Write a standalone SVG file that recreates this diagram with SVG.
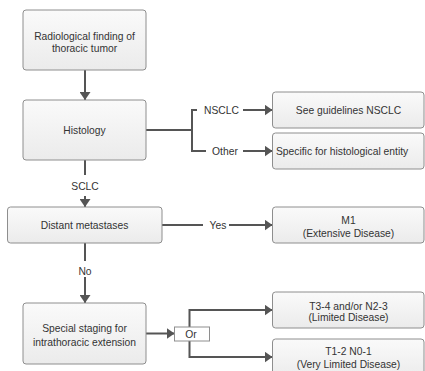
<svg xmlns="http://www.w3.org/2000/svg" width="425" height="371" viewBox="0 0 425 371">
<defs>
<linearGradient id="g" x1="0" y1="0" x2="0" y2="1">
<stop offset="0" stop-color="#fafafa"/>
<stop offset="1" stop-color="#ebebeb"/>
</linearGradient>
<marker id="ah" viewBox="0 0 8 11" markerWidth="8" markerHeight="11" refX="8" refY="5.5" orient="auto" markerUnits="userSpaceOnUse">
<path d="M0,0 L8,5.5 L0,11 z" fill="#555"/>
</marker>
<style>
.box{fill:url(#g);stroke:#8e8e8e;stroke-width:1}
.t{font-family:"Liberation Sans",Arial,sans-serif;font-size:10.3px;fill:#333;text-anchor:middle}
.c{fill:none;stroke:#555;stroke-width:2}
.a{marker-end:url(#ah)}
</style>
</defs>
<g id="connectors">
<line class="c a" x1="85" y1="70" x2="85" y2="100"/>
<polyline class="c" points="146,130 192,130"/>
<polyline class="c" points="197,110 192,110 192,151 206,151"/>
<line class="c a" x1="243" y1="110" x2="272.5" y2="110"/>
<line class="c a" x1="243" y1="151" x2="272.5" y2="151"/>
<text class="t" x="221.5" y="113.7">NSCLC</text>
<text class="t" x="225" y="154.7">Other</text>
<line class="c" x1="85" y1="160" x2="85" y2="175"/>
<text class="t" x="85" y="189.7">SCLC</text>
<line class="c a" x1="85" y1="196" x2="85" y2="207"/>
<line class="c" x1="162" y1="225" x2="203" y2="225"/>
<text class="t" x="218" y="228.7">Yes</text>
<line class="c a" x1="229" y1="225" x2="272.5" y2="225"/>
<line class="c" x1="85" y1="243" x2="85" y2="261"/>
<text class="t" x="85" y="274.7">No</text>
<line class="c a" x1="85" y1="277" x2="85" y2="303"/>
<line class="c a" x1="146" y1="333.5" x2="174.5" y2="333.5"/>
<polyline class="c a" points="189.5,327 189.5,310 272.5,310"/>
<polyline class="c a" points="189.5,341 189.5,357 272.5,357"/>
</g>
<g id="or">
<rect x="174.5" y="327" width="35" height="14" fill="#fff" stroke="#8e8e8e" stroke-width="1"/>
<text class="t" x="191" y="337.7">Or</text>
</g>
<g id="n1">
<rect class="box" x="23" y="10" width="123" height="60" rx="3"/>
<text class="t" x="84.5" y="39.7">Radiological finding of</text>
<text class="t" x="84.5" y="52">thoracic tumor</text>
</g>
<g id="n2">
<rect class="box" x="23" y="100" width="123" height="60" rx="3"/>
<text class="t" x="84.5" y="133.7">Histology</text>
</g>
<g id="n3">
<rect class="box" x="272.5" y="92" width="151.5" height="36" rx="3"/>
<text class="t" x="348.5" y="113.7">See guidelines NSCLC</text>
</g>
<g id="n4">
<rect class="box" x="272.5" y="133" width="151.5" height="36" rx="3"/>
<text class="t" x="276" y="154.7" style="text-anchor:start">Specific for histological entity</text>
</g>
<g id="n5">
<rect class="box" x="7.5" y="207" width="154.5" height="36" rx="3"/>
<text class="t" x="84.5" y="228.7">Distant metastases</text>
</g>
<g id="n6">
<rect class="box" x="272.5" y="207" width="151.5" height="36" rx="3"/>
<text class="t" x="348.5" y="224.4">M1</text>
<text class="t" x="348.5" y="236.7">(Extensive Disease)</text>
</g>
<g id="n7">
<rect class="box" x="23" y="303" width="123" height="61" rx="3"/>
<text class="t" x="84.5" y="331.5">Special staging for</text>
<text class="t" x="84.5" y="345.5">intrathoracic extension</text>
</g>
<g id="n8">
<rect class="box" x="272.5" y="292" width="151.5" height="36" rx="3"/>
<text class="t" x="348.5" y="309.7">T3-4 and/or N2-3</text>
<text class="t" x="348.5" y="321.4">(Limited Disease)</text>
</g>
<g id="n9">
<rect class="box" x="272.5" y="339" width="151.5" height="40" rx="3"/>
<text class="t" x="348.5" y="355.4">T1-2 N0-1</text>
<text class="t" x="348.5" y="368">(Very Limited Disease)</text>
</g>
</svg>
